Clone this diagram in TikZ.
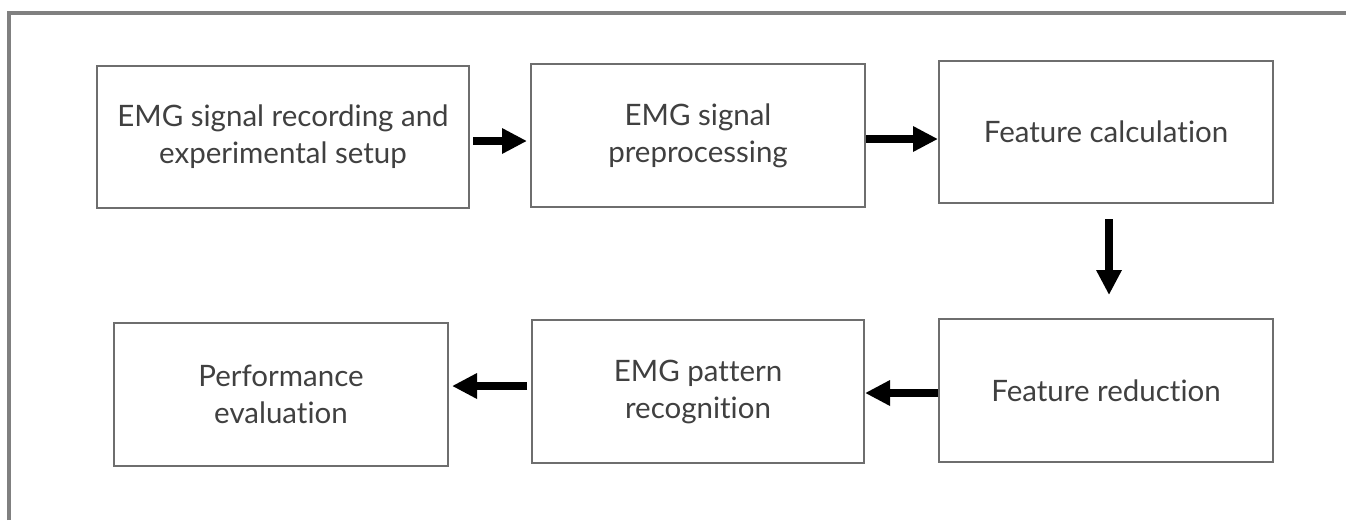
\documentclass[tikz,border=0pt]{standalone}
\usepackage{fontspec}
\setmainfont{Lato}[Ligatures=NoCommon]
\usetikzlibrary{arrows.meta}
\definecolor{framegray}{HTML}{808080}
\definecolor{boxgray}{HTML}{6E6E6E}
\definecolor{textgray}{HTML}{404040}
\tikzset{
  stepbox/.style={draw=boxgray, line width=2pt, fill=white, inner sep=0pt,
    align=center, text=textgray, font=\fontsize{29.5}{37}\selectfont},
  flowarrow/.style={line width=8pt, -{Triangle[length=25pt,width=24pt]}}
}
\begin{document}
\begin{tikzpicture}[x=1pt,y=-1pt]
\useasboundingbox (0,0) rectangle (1346,520);
\fill[white] (0,0) rectangle (1346,520);
% outer frame (open to the right and bottom)
\draw[framegray, line width=4pt] (9,520) -- (9,13) -- (1346,13);
% boxes
\node[stepbox, minimum width=372pt, minimum height=142pt] (rec) at (283,137)
  {EMG signal recording and\\experimental setup};
\node[stepbox, minimum width=334pt, minimum height=143pt] (pre) at (698,135.5)
  {EMG signal\\preprocessing};
\node[stepbox, minimum width=334pt, minimum height=142pt] (calc) at (1106,132)
  {Feature calculation};
\node[stepbox, minimum width=334pt, minimum height=143pt] (red) at (1106,390.5)
  {Feature reduction};
\node[stepbox, minimum width=332pt, minimum height=143pt] (pat) at (698,391.5)
  {EMG pattern\\recognition};
\node[stepbox, minimum width=334pt, minimum height=143pt] (perf) at (281,394.5)
  {Performance\\evaluation};
% arrow anchor coordinates
\coordinate (a1s) at (473,141);
\coordinate (a1e) at (527,141);
\coordinate (a3s) at (1109,219);
\coordinate (a3e) at (1109,295);
\coordinate (a5s) at (527,386);
\coordinate (a5e) at (452,386);
% connectors
\draw[flowarrow] (a1s) -- (a1e);
\draw[flowarrow] (pre.east |- 0,139) -- (calc.west |- 0,139);
\draw[flowarrow] (a3s) -- (a3e);
\draw[flowarrow] (red.west |- 0,393) -- (pat.east |- 0,393);
\draw[flowarrow] (a5s) -- (a5e);
\end{tikzpicture}
\end{document}
